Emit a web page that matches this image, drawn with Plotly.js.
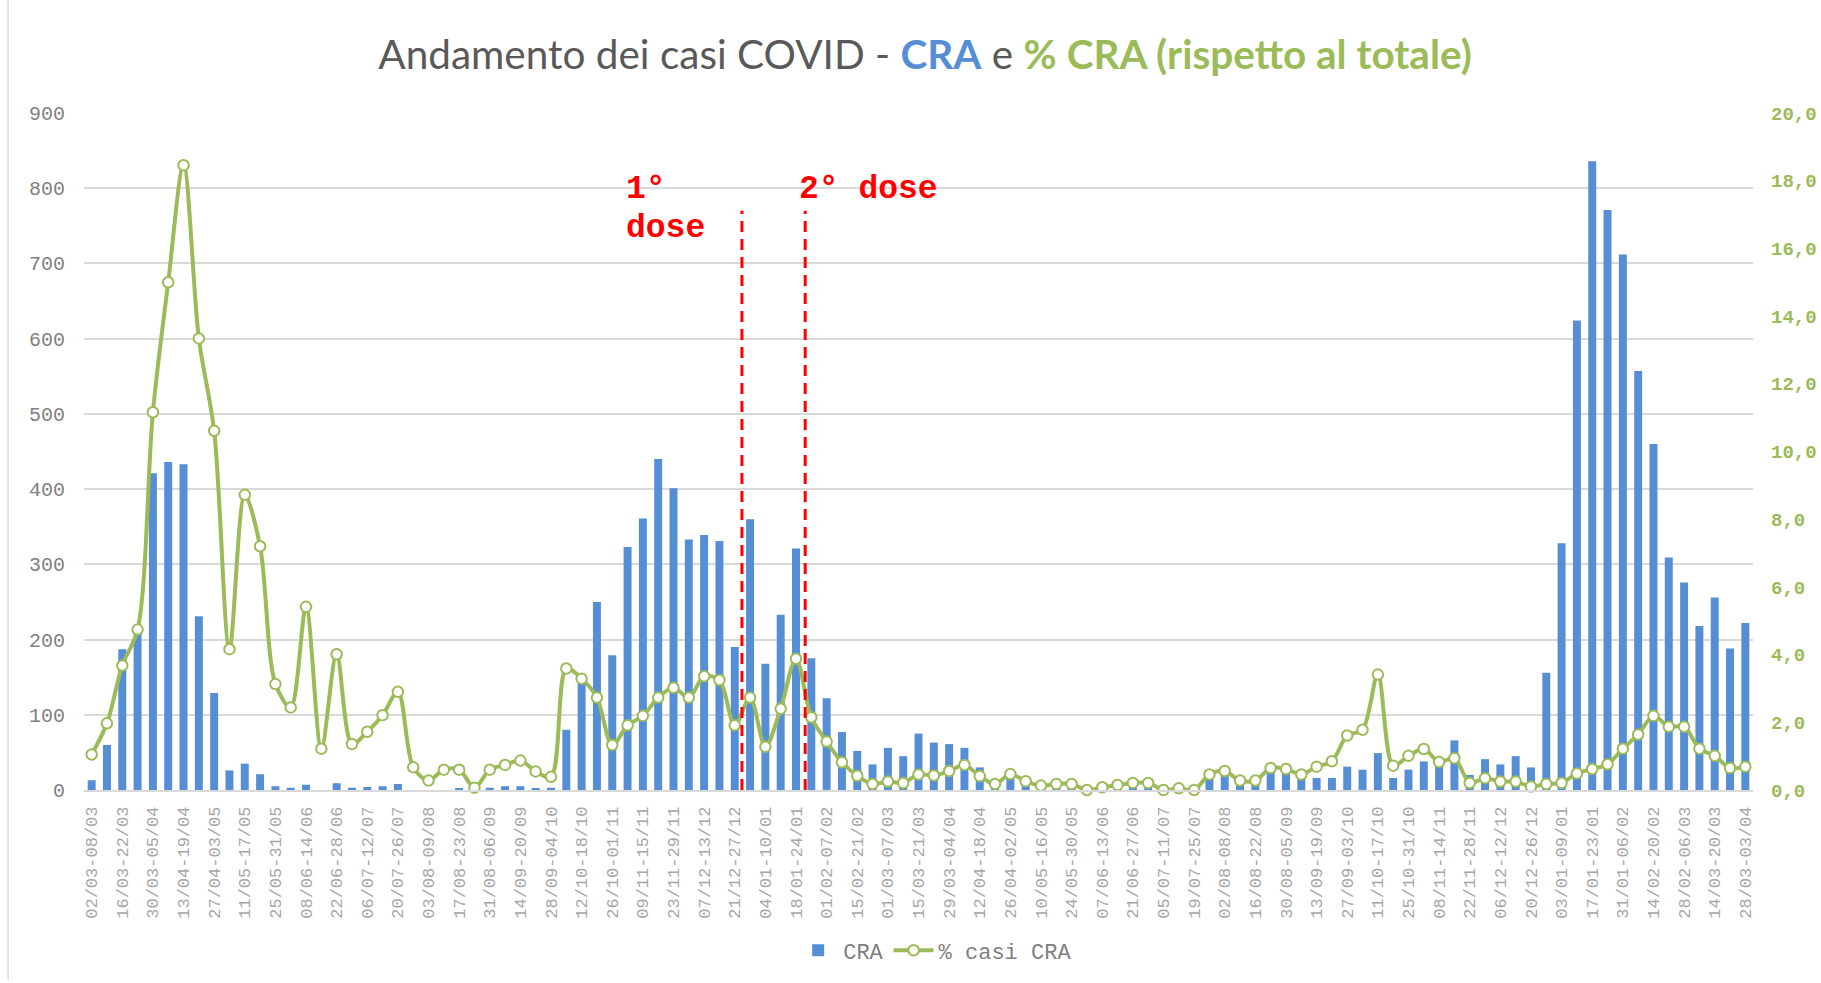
<!DOCTYPE html>
<html>
<head>
<meta charset="utf-8">
<script src="https://cdn.plot.ly/plotly-3.0.1.min.js"></script>
<style>
html, body { margin: 0; padding: 0; background: #ffffff; overflow: hidden; }
#chart { width: 1821px; height: 983px; }
</style>
</head>
<body>
<div id="chart"></div>
<script>
// Weekly periods (Mon-Sun), 02/03/2020 - 03/04/2022
const weeks = [
  "02/03-08/03","09/03-15/03","16/03-22/03","23/03-29/03","30/03-05/04","06/04-12/04","13/04-19/04","20/04-26/04",
  "27/04-03/05","04/05-10/05","11/05-17/05","18/05-24/05","25/05-31/05","01/06-07/06","08/06-14/06","15/06-21/06",
  "22/06-28/06","29/06-05/07","06/07-12/07","13/07-19/07","20/07-26/07","27/07-02/08","03/08-09/08","10/08-16/08",
  "17/08-23/08","24/08-30/08","31/08-06/09","07/09-13/09","14/09-20/09","21/09-27/09","28/09-04/10","05/10-11/10",
  "12/10-18/10","19/10-25/10","26/10-01/11","02/11-08/11","09/11-15/11","16/11-22/11","23/11-29/11","30/11-06/12",
  "07/12-13/12","14/12-20/12","21/12-27/12","28/12-03/01","04/01-10/01","11/01-17/01","18/01-24/01","25/01-31/01",
  "01/02-07/02","08/02-14/02","15/02-21/02","22/02-28/02","01/03-07/03","08/03-14/03","15/03-21/03","22/03-28/03",
  "29/03-04/04","05/04-11/04","12/04-18/04","19/04-25/04","26/04-02/05","03/05-09/05","10/05-16/05","17/05-23/05",
  "24/05-30/05","31/05-06/06","07/06-13/06","14/06-20/06","21/06-27/06","28/06-04/07","05/07-11/07","12/07-18/07",
  "19/07-25/07","26/07-01/08","02/08-08/08","09/08-15/08","16/08-22/08","23/08-29/08","30/08-05/09","06/09-12/09",
  "13/09-19/09","20/09-26/09","27/09-03/10","04/10-10/10","11/10-17/10","18/10-24/10","25/10-31/10","01/11-07/11",
  "08/11-14/11","15/11-21/11","22/11-28/11","29/11-05/12","06/12-12/12","13/12-19/12","20/12-26/12","27/12-02/01",
  "03/01-09/01","10/01-16/01","17/01-23/01","24/01-30/01","31/01-06/02","07/02-13/02","14/02-20/02","21/02-27/02",
  "28/02-06/03","07/03-13/03","14/03-20/03","21/03-27/03","28/03-03/04"
];

// Weekly CRA cases (left axis)
const casiCRA = [
  13, 60, 187, 212, 421, 436, 433, 231,
  129, 26, 35, 21, 5, 3, 7, 0,
  9, 3, 4, 5, 8, 0, 0, 0,
  2, 0, 3, 5, 5, 2, 3, 80,
  142, 250, 179, 323, 361, 440, 401, 333,
  339, 331, 190, 360, 168, 233, 321, 175,
  122, 77, 52, 34, 56, 45, 75, 63,
  61, 56, 30, 7, 17, 6, 3, 3,
  2, 0, 1, 2, 3, 3, 0, 1,
  0, 18, 22, 9, 8, 26, 25, 16,
  16, 16, 31, 27, 49, 16, 27, 38,
  34, 66, 20, 41, 34, 45, 30, 156,
  328, 624, 836, 771, 712, 557, 460, 309,
  276, 218, 256, 188, 222
];

// % CRA cases over total (right axis)
const percCRA = [
  1.05, 1.97, 3.68, 4.74, 11.16, 15.0, 18.46, 13.34,
  10.61, 4.16, 8.72, 7.20, 3.13, 2.44, 5.41, 1.22,
  4.01, 1.36, 1.72, 2.21, 2.90, 0.67, 0.28, 0.60,
  0.60, 0.07, 0.60, 0.74, 0.87, 0.55, 0.39, 3.59,
  3.29, 2.73, 1.33, 1.91, 2.19, 2.73, 3.02, 2.73,
  3.36, 3.25, 1.91, 2.73, 1.28, 2.40, 3.88, 2.15,
  1.43, 0.82, 0.42, 0.18, 0.25, 0.21, 0.46, 0.43,
  0.56, 0.74, 0.41, 0.18, 0.47, 0.26, 0.13, 0.18,
  0.18, 0.0, 0.08, 0.15, 0.21, 0.21, 0.0, 0.05,
  0.0, 0.46, 0.56, 0.28, 0.28, 0.65, 0.62, 0.46,
  0.69, 0.85, 1.61, 1.78, 3.41, 0.72, 1.01, 1.21,
  0.83, 0.94, 0.21, 0.35, 0.25, 0.25, 0.10, 0.18,
  0.21, 0.49, 0.62, 0.76, 1.22, 1.64, 2.19, 1.87,
  1.87, 1.22, 1.01, 0.65, 0.69
];

// Axis ticks
const leftTicks = [0, 100, 200, 300, 400, 500, 600, 700, 800, 900];
const rightTicks = [0, 2, 4, 6, 8, 10, 12, 14, 16, 18, 20];
const rightTickText = ["0,0","2,0","4,0","6,0","8,0","10,0","12,0","14,0","16,0","18,0","20,0"];
const xTickVals = weeks.filter((w, i) => i % 2 === 0);

// Vaccine dose markers (positions between weeks)
const doseLines = [42.47, 46.6];

const BLUE = "#558ED5";
const GREEN = "#9BBB59";
const MONO = "'Liberation Mono', 'Courier New', monospace";

const traces = [
  {
    type: "bar",
    name: "CRA",
    x: weeks,
    y: casiCRA,
    marker: { color: BLUE },
    yaxis: "y",
    hoverinfo: "x+y"
  },
  {
    type: "scatter",
    mode: "lines+markers",
    name: "% casi CRA",
    x: weeks,
    y: percCRA,
    yaxis: "y2",
    line: { color: GREEN, width: 4, shape: "spline", smoothing: 0.9 },
    marker: { symbol: "circle", size: 10.5, color: "#ffffff", line: { color: GREEN, width: 2 } },
    cliponaxis: false
  }
];

const shapes = doseLines.map(x => ({
  type: "line", xref: "x", yref: "y",
  x0: x, x1: x, y0: 0, y1: 770,
  line: { color: "#FF0000", width: 3, dash: "11px,7px" }
}));
shapes.push({
  type: "line", xref: "paper", yref: "paper",
  x0: -0.0455, x1: -0.0455, y0: -0.28, y1: 1.17,
  line: { color: "#D9D9D9", width: 1.5 }
});

const annFont = { family: MONO, size: 33, color: "#FF0000" };
const annotations = [
  { xref: "x", yref: "y", x: 34.75, y: 798, text: "<b>1°</b>", showarrow: false, xanchor: "left", yanchor: "middle", font: annFont },
  { xref: "x", yref: "y", x: 34.75, y: 747, text: "<b>dose</b>", showarrow: false, xanchor: "left", yanchor: "middle", font: annFont },
  { xref: "x", yref: "y", x: 46.05, y: 798, text: "<b>2° dose</b>", showarrow: false, xanchor: "left", yanchor: "middle", font: annFont }
];

const layout = {
  width: 1821,
  height: 983,
  paper_bgcolor: "#ffffff",
  plot_bgcolor: "#ffffff",
  margin: { l: 84, r: 68, t: 112.5, b: 190, pad: 0 },
  title: {
    text: "Andamento dei casi COVID - <span style='color:" + BLUE + "'><b>CRA</b></span> e <span style='color:" + GREEN + "'><b>% CRA (rispetto al totale)</b></span>",
    font: { family: "Lato, 'Open Sans', sans-serif", size: 40.5, color: "#595959" },
    xref: "container", yref: "container",
    x: 0.508, y: 0.944, xanchor: "center", yanchor: "middle"
  },
  bargap: 0.48,
  showlegend: true,
  legend: {
    orientation: "h",
    x: 0.51, xanchor: "center",
    y: -0.237, yanchor: "middle",
    font: { family: MONO, size: 22, color: "#7F7F7F" },
    itemwidth: 40
  },
  xaxis: {
    type: "category",
    range: [-0.5, weeks.length - 0.5],
    tickmode: "array",
    tickvals: xTickVals,
    ticktext: xTickVals,
    tickangle: -90,
    tickfont: { family: MONO, size: 17, color: "#A6A6A6" },
    ticks: "",
    ticklabelstandoff: 8,
    showgrid: false,
    showline: true,
    linecolor: "#D9D9D9",
    linewidth: 1.5,
    automargin: false,
    fixedrange: true
  },
  yaxis: {
    range: [0, 900],
    tickmode: "array",
    tickvals: leftTicks,
    tickfont: { family: MONO, size: 20, color: "#7F7F7F" },
    ticks: "",
    ticklabelstandoff: 18,
    showgrid: true,
    gridcolor: "#D9D9D9",
    gridwidth: 1.5,
    zeroline: false,
    showline: false,
    automargin: false,
    fixedrange: true
  },
  yaxis2: {
    range: [0, 20],
    overlaying: "y",
    side: "right",
    tickmode: "array",
    tickvals: rightTicks,
    ticktext: rightTickText,
    tickfont: { family: MONO, size: 19, color: GREEN, weight: "bold" },
    ticks: "",
    ticklabelstandoff: 17,
    showgrid: false,
    zeroline: false,
    showline: false,
    automargin: false,
    fixedrange: true
  },
  shapes: shapes,
  annotations: annotations
};

Plotly.newPlot("chart", traces, layout, { displayModeBar: false, responsive: false, staticPlot: false });
</script>
</body>
</html>
